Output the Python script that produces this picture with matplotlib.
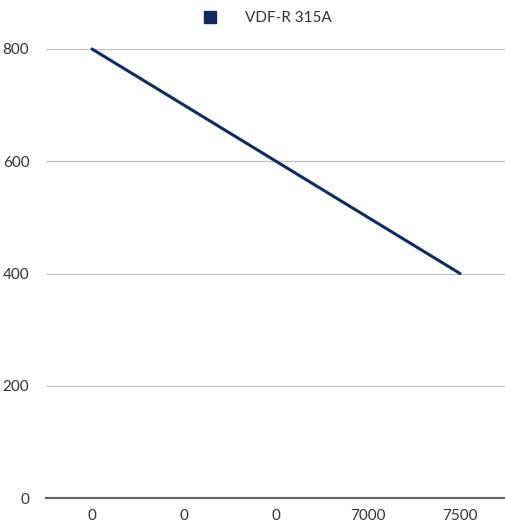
import matplotlib
matplotlib.use("Agg")
import matplotlib.pyplot as plt
from matplotlib.lines import Line2D

# data
categories = ["0", "0", "0", "7000", "7500"]
values = [800, 700, 600, 500, 400]
series_name = "VDF-R 315A"
line_color = "#0d2c63"

plt.rcParams['font.family'] = ['Lato', 'DejaVu Sans']

fig = plt.figure(figsize=(5.06, 5.29), dpi=100)
ax = fig.add_axes([46 / 506, 31 / 529, 460 / 506, 449 / 529])

x = list(range(len(categories)))
ax.plot(x, values, color=line_color, linewidth=2.2, clip_on=False, solid_capstyle='round')

ax.set_xlim(-0.5, len(categories) - 0.5)
ax.set_ylim(0, 800)
ax.set_yticks([0, 200, 400, 600, 800])
ax.set_xticks(x)
ax.set_xticklabels(categories)

ax.grid(axis='y', color='#c4c4c4', linewidth=1)
ax.set_axisbelow(True)
for side in ['top', 'right', 'left']:
    ax.spines[side].set_visible(False)
ax.spines['bottom'].set_color('#666666')
ax.spines['bottom'].set_linewidth(1.5)
ax.spines['bottom'].set_zorder(3)

ax.tick_params(axis='both', length=0, labelsize=11, colors='#333333')
ax.tick_params(axis='y', pad=12)
ax.tick_params(axis='x', pad=8)

handle = Line2D([], [], marker='s', linestyle='none', markersize=9, color=line_color)
fig.legend([handle], [series_name], loc='upper center', bbox_to_anchor=(0.52, 1.005),
           frameon=False, fontsize=11, handletextpad=1.3, labelcolor='#333333')

fig.savefig("out.png", dpi=100)
